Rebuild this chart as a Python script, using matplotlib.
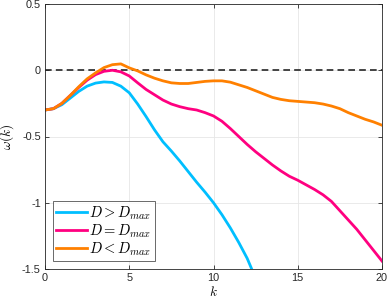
import numpy as np
import matplotlib
matplotlib.use("Agg")
import matplotlib.pyplot as plt

plt.rcParams['mathtext.fontset'] = 'cm'
plt.rcParams['font.family'] = ['Liberation Sans', 'DejaVu Sans']

k_cyan = [0, 0.5, 1, 1.5, 2, 2.5, 3, 3.5, 4, 4.5, 5, 5.5, 6, 6.5, 7, 7.5, 8, 8.5,
          9, 9.5, 10, 10.5, 11, 11.5, 12, 12.5]
w_cyan = [-0.30, -0.29, -0.26, -0.21, -0.16, -0.12, -0.097, -0.088, -0.092, -0.12,
          -0.17, -0.255, -0.35, -0.45, -0.54, -0.61, -0.685, -0.765, -0.845, -0.92,
          -1.00, -1.09, -1.19, -1.30, -1.42, -1.57]

k_full = [0, 0.5, 1, 1.5, 2, 2.5, 3, 3.5, 4, 4.5, 5, 5.5, 6, 6.5, 7, 7.5, 8, 8.5,
          9, 9.5, 10, 10.5, 11, 11.5, 12, 12.5, 13, 13.5, 14, 14.5, 15, 15.5, 16,
          16.5, 17, 17.5, 18, 18.5, 19, 19.5, 20]
w_mag = [-0.30, -0.29, -0.25, -0.19, -0.13, -0.075, -0.033, -0.008, 0.0, -0.012,
         -0.043, -0.095, -0.145, -0.185, -0.225, -0.255, -0.275, -0.29, -0.30, -0.32,
         -0.345, -0.385, -0.44, -0.50, -0.56, -0.615, -0.665, -0.715, -0.76, -0.80,
         -0.83, -0.865, -0.90, -0.94, -0.99, -1.06, -1.13, -1.20, -1.28, -1.36, -1.44]
w_org = [-0.30, -0.29, -0.25, -0.19, -0.125, -0.065, -0.02, 0.02, 0.042, 0.048,
         0.018, -0.005, -0.035, -0.06, -0.08, -0.095, -0.10, -0.10, -0.092, -0.084,
         -0.08, -0.08, -0.09, -0.11, -0.13, -0.155, -0.18, -0.205, -0.22, -0.23,
         -0.235, -0.24, -0.245, -0.255, -0.27, -0.29, -0.32, -0.345, -0.37, -0.39, -0.415]

labels = [r'$D > D_{max}$', r'$D = D_{max}$', r'$D < D_{max}$']
colors = ['#00BFFF', '#FF0080', '#FF8000']

fig = plt.figure(figsize=(3.89, 3.04), dpi=100)
ax = fig.add_axes([45/389, 1-269/304, 337/389, 265/304])

ax.axhline(0, color='#262626', ls=(0, (4, 2.5)), lw=1.2, zorder=1)
ax.plot(k_cyan, w_cyan, color=colors[0], lw=2.0, label=labels[0])
ax.plot(k_full, w_mag, color=colors[1], lw=2.0, label=labels[1])
ax.plot(k_full, w_org, color=colors[2], lw=2.0, label=labels[2])

ax.set_xlim(0, 20)
ax.set_ylim(-1.5, 0.5)
ax.set_xticks([0, 5, 10, 15, 20])
ax.set_yticks([-1.5, -1, -0.5, 0, 0.5])
ax.set_yticklabels(['-1.5', '-1', '-0.5', '0', '0.5'])
ax.set_xticklabels(['0', '5', '10', '15', '20'])
ax.grid(True, color='#e6e6e6', lw=0.6)
ax.set_axisbelow(True)
ax.tick_params(direction='in', length=3, width=0.6, labelsize=7.8, colors='#262626',
               top=True, right=True, pad=3)
for s in ax.spines.values():
    s.set_linewidth(0.6)
    s.set_color('#262626')

ax.set_xlabel(r'$k$', fontsize=9.5, labelpad=1)
ax.set_ylabel(r'$\omega(k)$', fontsize=9.5, labelpad=4)

leg = ax.legend(loc='lower left', fontsize=10.5, frameon=True, fancybox=False,
                edgecolor='#262626', borderpad=0.2, handlelength=2.1,
                handletextpad=0.2, labelspacing=0.05, borderaxespad=0.55)
leg.get_frame().set_linewidth(0.6)

fig.savefig('out.png', dpi=100)
